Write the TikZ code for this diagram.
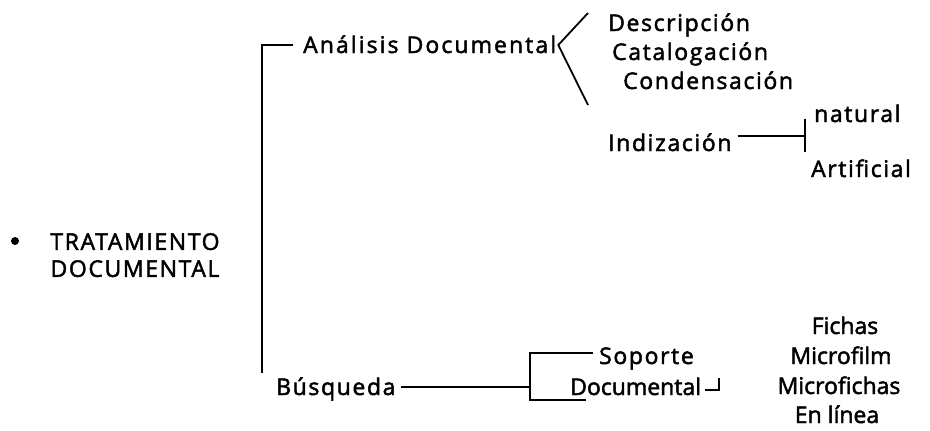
\documentclass[tikz,border=0pt]{standalone}
\usepackage{fontspec}
\setmainfont{Open Sans}[LetterSpace=7, FakeBold=2]
\begin{document}
\begin{tikzpicture}[x=1pt,y=-1pt,
  lbl/.style={inner sep=0pt, font=\fontsize{23}{27}\selectfont,
              text height=16pt, text depth=0pt},
  tight/.style={lbl, font=\fontsize{23}{27}\selectfont\addfontfeature{LetterSpace=0}},
  col/.style={tight, anchor=center},
  br/.style={line width=1.8pt}]
\useasboundingbox (0,0) rectangle (930,431);

% root entry
\node[circle, fill, inner sep=0pt, minimum size=8pt] (dot) at (15,241) {};
\node[inner sep=0pt, font=\fontsize{23}{27}\selectfont, align=center, anchor=north]
  (root) at (135,233) {TRATAMIENTO\\DOCUMENTAL};

% first branch
\node[lbl, anchor=west, font=\fontsize{23}{27}\selectfont\addfontfeature{LetterSpace=9}]
  (an) at (303,45) {Análisis Documental};
\node[lbl, anchor=west] (de) at (608,23) {Descripción};
\node[lbl, anchor=west] (ca) at (612,52) {Catalogación};
\node[lbl, anchor=west] (co) at (623,81) {Condensación};
\node[lbl, anchor=west] (in) at (608,143) {Indización};
\node[lbl, anchor=west] (na) at (814,114) {natural};
\node[lbl, anchor=west] (ar) at (811,169) {Artificial};

% second branch
\node[lbl, anchor=west] (bu) at (276,387) {Búsqueda};
\node[lbl, anchor=west] (so) at (599,356) {Soporte};
\node[tight, anchor=west] (do) at (570,387) {Documental};
\node[col] (fi) at (845,326) {Fichas};
\node[col] (mf) at (841,356) {Microfilm};
\node[col] (mc) at (839,386) {Microfichas};
\node[col] (el) at (837,415) {En línea};

% main bracket
\draw[br] ([xshift=-10pt]an.west) -| ([shift={(-14pt,6pt)}]bu.north west);

% fork after the analysis entry
\coordinate (fk) at ([xshift=2pt]an.east);
\draw[br] ([shift={(-20pt,10pt)}]de.west) -- (fk) -- ([shift={(-20pt,38pt)}]in.west);

% index split
\coordinate (itk) at (805,136);
\draw[br] ([shift={(6pt,7pt)}]in.east) -- (itk)
          ([yshift=17pt]itk) -- ([yshift=-16pt]itk);

% search branch and its bracket
\coordinate (sb) at (530,387);
\draw[br] ([xshift=5pt]bu.east) -- (sb);
\draw[br] ([shift={(-6pt,3pt)}]so.west) -| (sb) |- ([shift={(16pt,-13pt)}]do.west);

% support split
\coordinate (dtk) at ([shift={(18pt,-3pt)}]do.east);
\draw[br] ([shift={(4pt,-3pt)}]do.east) -- (dtk) -- ([yshift=12pt]dtk);
\end{tikzpicture}
\end{document}
